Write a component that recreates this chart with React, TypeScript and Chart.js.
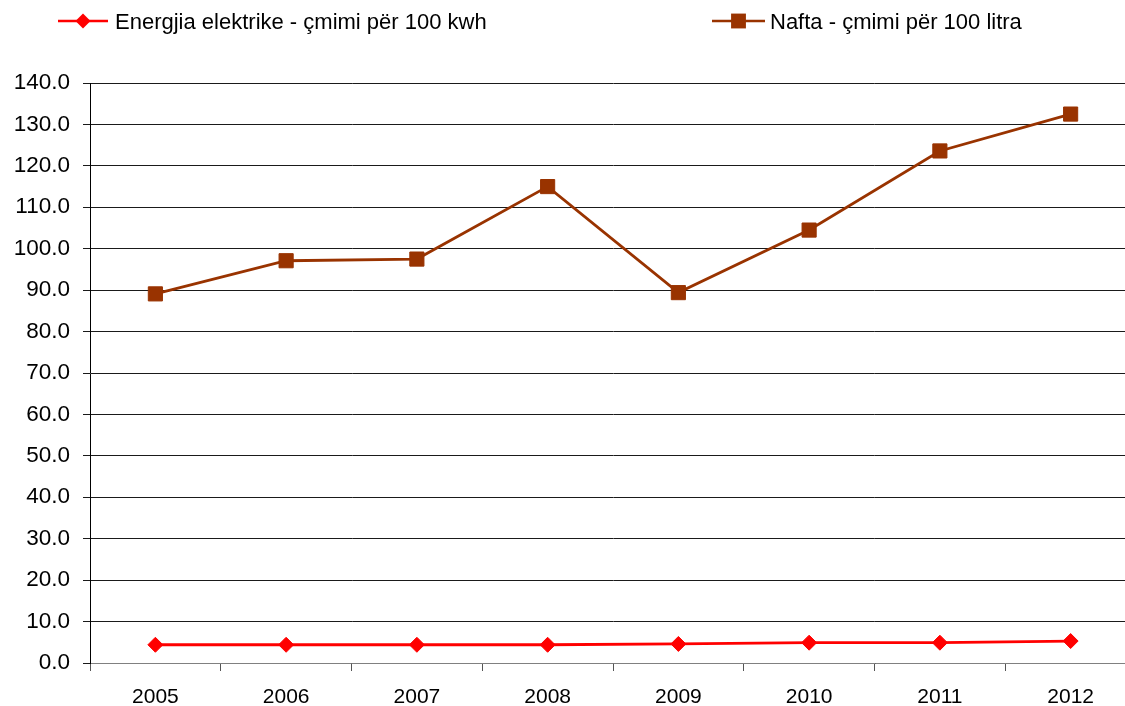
import React, { useEffect, useRef } from "react";
import { Chart, registerables } from "chart.js";

Chart.register(...registerables);

const years = ["2005", "2006", "2007", "2008", "2009", "2010", "2011", "2012"];
const energjiaValues = [4.4, 4.4, 4.4, 4.4, 4.6, 4.9, 4.9, 5.3];
const naftaValues = [89.1, 97.1, 97.5, 115.0, 89.4, 104.5, 123.6, 132.5];
const energjiaLabel = "Energjia elektrike - çmimi për 100 kwh";
const naftaLabel = "Nafta - çmimi për 100 litra";

const RED = "#FF0000";
const BROWN = "#993300";
const FONT = "'Liberation Sans', Arial, sans-serif";

const legendPlugin = {
  id: "customLegend",
  afterDraw(chart: any) {
    const ctx = chart.ctx;
    ctx.save();
    const items = [
      { label: energjiaLabel, color: RED, x0: 58, x1: 108, style: "rectRot", r: 7.5, tx: 115 },
      { label: naftaLabel, color: BROWN, x0: 712, x1: 765, style: "rect", r: 10.5, tx: 770 },
    ];
    const y = 21;
    for (const it of items) {
      ctx.strokeStyle = it.color;
      ctx.lineWidth = 2.5;
      ctx.beginPath();
      ctx.moveTo(it.x0, y);
      ctx.lineTo(it.x1, y);
      ctx.stroke();
      ctx.fillStyle = it.color;
      const cx = (it.x0 + it.x1) / 2;
      ctx.beginPath();
      if (it.style === "rectRot") {
        ctx.moveTo(cx, y - it.r);
        ctx.lineTo(cx + it.r, y);
        ctx.lineTo(cx, y + it.r);
        ctx.lineTo(cx - it.r, y);
        ctx.closePath();
      } else {
        const s = it.r * Math.SQRT1_2;
        ctx.rect(cx - s, y - s, 2 * s, 2 * s);
      }
      ctx.fill();
      ctx.fillStyle = "#000";
      ctx.font = `22px ${FONT}`;
      ctx.textBaseline = "alphabetic";
      ctx.textAlign = "left";
      ctx.fillText(it.label, it.tx, 29);
    }
    ctx.restore();
  },
};

export default function App() {
  const ref = useRef<HTMLCanvasElement>(null);
  useEffect(() => {
    if (!ref.current) return;
    const chart = new Chart(ref.current, {
      type: "line",
      data: {
        labels: years,
        datasets: [
          {
            label: energjiaLabel,
            data: energjiaValues,
            borderColor: RED,
            backgroundColor: RED,
            borderWidth: 2.8,
            pointStyle: "rectRot",
            pointRadius: 7.5,
            pointBorderWidth: 1,
            pointBackgroundColor: RED,
            pointBorderColor: RED,
            tension: 0,
          },
          {
            label: naftaLabel,
            data: naftaValues,
            borderColor: BROWN,
            backgroundColor: BROWN,
            borderWidth: 2.8,
            pointStyle: "rect",
            pointRadius: 10,
            pointBorderWidth: 1,
            pointBackgroundColor: BROWN,
            pointBorderColor: BROWN,
            tension: 0,
          },
        ],
      },
      options: {
        animation: false,
        responsive: false,
        devicePixelRatio: 1,
        layout: { padding: { top: 83, right: 4, bottom: 0, left: 0 } },
        plugins: { legend: { display: false }, tooltip: { enabled: false } },
        scales: {
          x: {
            offset: true,
            grid: {
              offset: true,
              drawOnChartArea: false,
              drawTicks: true,
              tickLength: 8,
              color: "#555",
            },
            border: { display: true, color: "#808080", width: 1 },
            ticks: {
              color: "#000",
              font: { family: FONT, size: 21 },
              padding: 14,
              maxRotation: 0,
            },
            afterFit(scale: any) {
              scale.height = 43;
            },
          },
          y: {
            min: 0,
            max: 140,
            grid: {
              color: "#1a1a1a",
              lineWidth: 1,
              drawTicks: true,
              tickLength: 7,
            },
            border: { display: true, color: "#000", width: 1 },
            ticks: {
              stepSize: 10,
              color: "#000",
              font: { family: FONT, size: 22.5 },
              padding: 13,
              callback: (v: any) => Number(v).toFixed(1),
            },
            afterFit(scale: any) {
              scale.width = 90;
            },
          },
        },
      },
      plugins: [legendPlugin],
    });
    return () => chart.destroy();
  }, []);
  return (
    <div
      style={{
        position: "fixed",
        left: 0,
        top: 0,
        width: 1125,
        height: 706,
        overflow: "hidden",
        background: "#fff",
      }}
    >
      <canvas ref={ref} width={1147} height={706} style={{ width: 1147, height: 706, display: "block" }} />
    </div>
  );
}
